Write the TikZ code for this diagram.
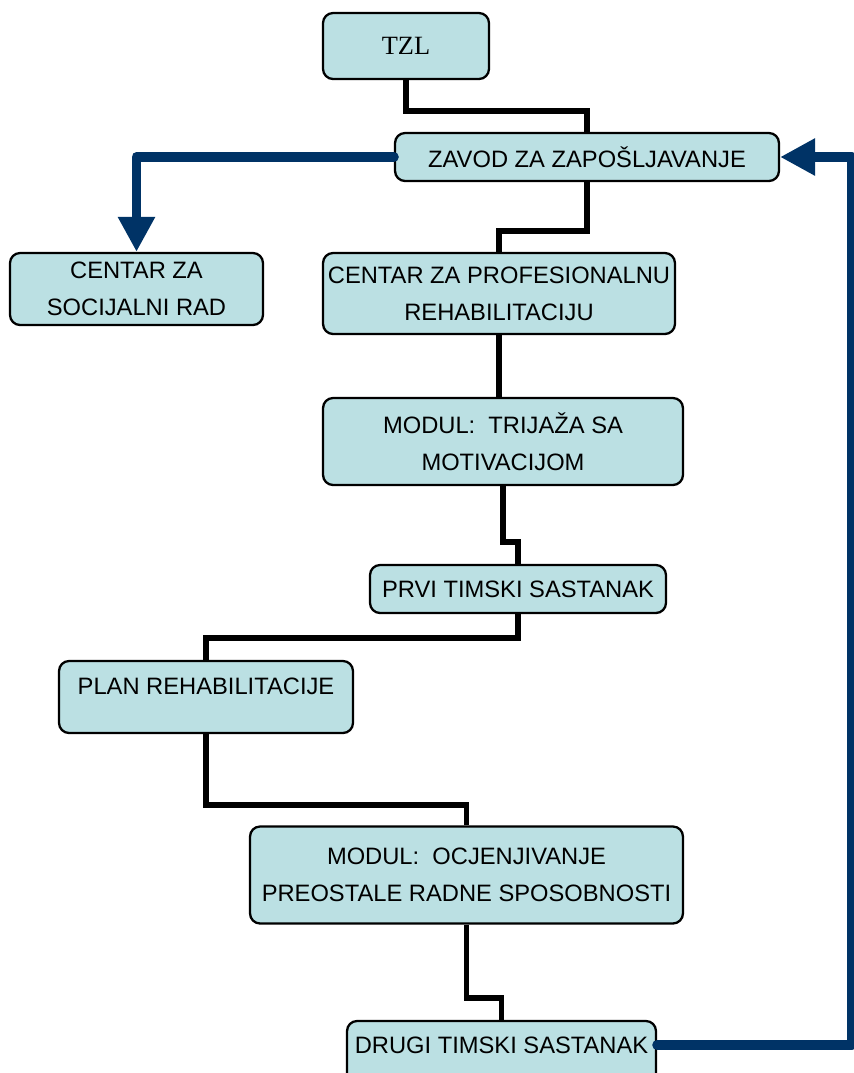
\documentclass[tikz,border=0pt]{standalone}
\usepackage{fontspec}
\setmainfont{Liberation Sans}
\newfontfamily\tzlfont{Liberation Serif}
\usetikzlibrary{arrows.meta}
\definecolor{boxfill}{RGB}{187,224,227}
\definecolor{navyline}{RGB}{0,51,102}
\tikzset{
	flow/.style={rectangle,rounded corners=0.2cm,draw=black,line width=1.3pt,fill=boxfill,align=center,inner sep=2pt,font=\fontsize{13.5}{21}\selectfont},
	link/.style={line width=3.4pt,line join=miter},
	back/.style={navyline,line width=5.6pt,line cap=round,line join=round,-{Triangle[width=0.7cm,length=0.7cm]}}
}
\newcommand{\flowbox}[4][]{\node[flow,#1] at (#2) (#3) {#4}}

\begin{document}
\begin{tikzpicture}[x=0.02cm,y=-0.02cm]
			\useasboundingbox (0,0) rectangle (854,1073);
			
			\flowbox[minimum width=3.32cm,minimum height=1.32cm,font=\tzlfont\fontsize{15}{18}\selectfont]{406,46}{tzl}{TZL};
			\flowbox[minimum width=7.68cm,minimum height=0.96cm]{587,157}{zavod}{ZAVOD ZA ZAPOŠLJAVANJE};
			\flowbox[minimum width=5.06cm,minimum height=1.44cm]{136.5,289}{csr}{CENTAR ZA\\SOCIJALNI RAD};
			\flowbox[minimum width=7.04cm,minimum height=1.62cm]{499,293.5}{czpr}{CENTAR ZA PROFESIONALNU\\REHABILITACIJU};
			\flowbox[minimum width=7.2cm,minimum height=1.74cm]{503,441.5}{trijaza}{MODUL:\ \ TRIJAŽA SA\\MOTIVACIJOM};
			\flowbox[minimum width=5.92cm,minimum height=0.96cm]{518,589}{prvi}{PRVI TIMSKI SASTANAK};
			\flowbox[minimum width=5.88cm,minimum height=1.44cm,text height=0.33cm,text depth=0.44cm]{206,697}{plan}{PLAN REHABILITACIJE};
			\flowbox[minimum width=8.66cm,minimum height=1.94cm]{466.5,875}{ocjena}{MODUL:\ \ OCJENJIVANJE\\PREOSTALE RADNE SPOSOBNOSTI};
			\flowbox[minimum width=6.18cm,minimum height=1.28cm,text height=0.33cm,text depth=0.32cm]{501.5,1053}{drugi}{DRUGI TIMSKI SASTANAK};
			
			\draw[link] (tzl.south) -- ++(0,31) -| (zavod.north);
			\draw[link] (zavod.south) -- ++(0,49) -| (czpr.north);
			\draw[link] (czpr.south) -- (czpr.south |- trijaza.north);
			\draw[link] (trijaza.south) -- ++(0,56) -| (prvi.north);
			\draw[link] (prvi.south) -- ++(0,24) -| (plan.north);
			\draw[link] (plan.south) -- ++(0,71) -| (ocjena.north);
			\draw[link] (ocjena.south) -- ++(0,73) -| (drugi.north);
			
			\draw[back] (zavod.west) -| (csr.north);
			\draw[back] ([yshift=0.16cm]drugi.east) -- ++(195,0) |- (zavod.east);
			
\end{tikzpicture}
\end{document}
